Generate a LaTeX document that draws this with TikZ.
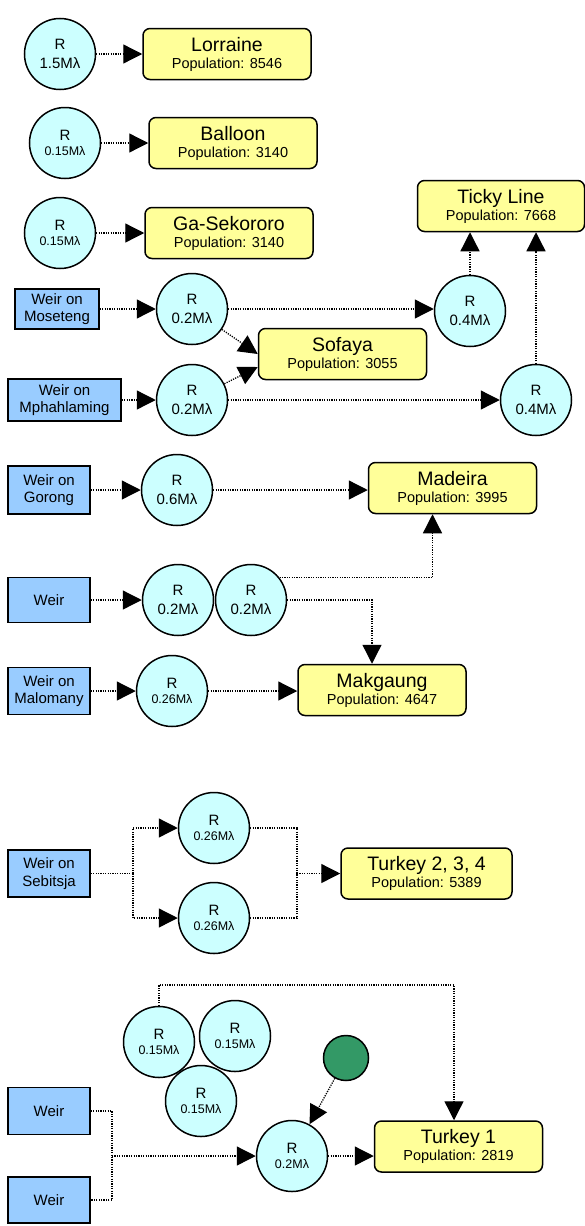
\documentclass[tikz,border=0pt]{standalone}
\usepackage{fontspec}
\setmainfont{Liberation Sans}
\usetikzlibrary{arrows.meta,calc}
\definecolor{rcyan}{HTML}{CCFFFF}
\definecolor{tyellow}{HTML}{FFFF99}
\definecolor{wblue}{HTML}{99CCFF}
\definecolor{sgreen}{HTML}{339966}
\newcommand\townname[1]{{\fontsize{19.5}{17}\selectfont #1}}
\newcommand\smallval[1]{{\fontsize{12.5}{15}\selectfont #1}}
\begin{document}
\begin{tikzpicture}[x=1pt,y=-1pt,
 res/.style={circle, draw=black, line width=1.5pt, fill=rcyan, minimum size=71pt, inner sep=0pt, align=center, font=\fontsize{15}{18.5}\selectfont},
 ress/.style={res, font=\fontsize{15}{15}\selectfont},
 town/.style={draw=black, line width=1.5pt, fill=tyellow, rounded corners=7pt, minimum width=168pt, minimum height=51pt, inner sep=0pt, align=center, font=\fontsize{14.5}{17}\selectfont},
 weir/.style={draw=black, line width=1.5pt, fill=wblue, inner sep=0pt, align=center, minimum width=82pt, minimum height=47pt, font=\fontsize{15}{17.5}\selectfont},
 conn/.style={line width=1.3pt, dash pattern=on 1.2pt off 1.2pt},
 arr/.style={conn, -{Triangle[length=19pt,width=19pt]}},
]
\useasboundingbox (0,0) rectangle (585,1226);

% Lorraine
\node[res] (r1) at (60,54) {R\\1.5Mλ};
\node[town] (lor) at (227,54) {\townname{Lorraine}\\Population: 8546};
\draw[arr] (r1) -- (lor);

% Balloon
\node[ress] (r2) at (65,143) {R\\\smallval{0.15Mλ}};
\node[town] (bal) at (233,143) {\townname{Balloon}\\Population: 3140};
\draw[arr] (r2) -- (bal);

% Ga-Sekororo
\node[ress] (r3) at (60,233) {R\\\smallval{0.15Mλ}};
\node[town] (gas) at (229,233) {\townname{Ga-Sekororo}\\Population: 3140};
\draw[arr] (r3) -- (gas);

% Ticky Line / Sofaya
\node[town, minimum width=167pt] (tic) at (501,206) {\townname{Ticky Line}\\Population: 7668};
\node[weir, minimum width=84pt, minimum height=40pt] (wmo) at (57,309) {Weir on\\Moseteng};
\node[res] (rmo) at (192,309) {R\\0.2Mλ};
\node[res] (rtl1) at (470,311) {R\\0.4Mλ};
\node[town] (sof) at (342.5,354) {\townname{Sofaya}\\Population: 3055};
\node[weir, minimum width=113pt, minimum height=42pt] (wmp) at (64.5,400) {Weir on\\Mphahlaming};
\node[res] (rmp) at (192,400) {R\\0.2Mλ};
\node[res] (rtl2) at (536,400) {R\\0.4Mλ};
\draw[arr] (wmo) -- (rmo);
\draw[arr] (rmo) -- (rmo -| rtl1.west);
\draw[arr] (rtl1) -- (rtl1 |- tic.south);
\draw[arr] (rtl2) -- (rtl2 |- tic.south);
\draw[arr] (rmo) -- (sof.west);
\draw[arr] (rmp) -- ($(sof.west)+(0,13)$);
\draw[arr] (wmp) -- (rmp);
\draw[arr] (rmp) -- (rtl2);

% Madeira / Makgaung
\node[weir, minimum height=48pt] (wgo) at (49,490) {Weir on\\Gorong};
\node[res] (rgo) at (177,490) {R\\0.6Mλ};
\node[town] (mad) at (452.5,488) {\townname{Madeira}\\Population: 3995};
\draw[arr] (wgo) -- (rgo);
\draw[arr] (rgo) -- (rgo -| mad.west);

\node[weir, minimum height=45pt] (wwe) at (49,600) {Weir};
\node[res] (rwa) at (178,600) {R\\0.2Mλ};
\node[res] (rwb) at (251,600) {R\\0.2Mλ};
\node[weir] (wma) at (49,691) {Weir on\\Malomany};
\node[ress] (rma) at (172,691) {R\\\smallval{0.26Mλ}};
\node[town] (mak) at (382,690) {\townname{Makgaung}\\Population: 4647};
\draw[arr] (wwe) -- (rwa);
\draw[arr] (rwb.38) -| ($(mad.south)+(-20,0)$);
\draw[arr] (rwb.east) -| ($(mak.north)+(-10,0)$);
\draw[arr] (wma) -- (rma);
\draw[arr] (rma) -- (rma -| mak.west);

% Turkey 2, 3, 4
\node[weir] (wse) at (49,873.5) {Weir on\\Sebitsja};
\node[ress] (rsa) at (214,828) {R\\\smallval{0.26Mλ}};
\node[ress] (rsb) at (214,918) {R\\\smallval{0.26Mλ}};
\node[town, minimum width=171pt] (tk2) at (426.5,873.5) {\townname{Turkey 2, 3, 4}\\Population: 5389};
\coordinate (ja) at (133,873.5);
\coordinate (jb) at (297,873.5);
\draw[conn] (wse) -- (ja);
\draw[arr] (ja) |- (rsa);
\draw[arr] (ja) |- (rsb);
\draw[conn] (rsa) -| (jb);
\draw[conn] (rsb) -| (jb);
\draw[arr] (jb) -- (tk2);

% Turkey 1
\node[ress] (ca) at (159,1042) {R\\\smallval{0.15Mλ}};
\node[ress] (cb) at (235,1036) {R\\\smallval{0.15Mλ}};
\node[ress] (cc) at (201,1101) {R\\\smallval{0.15Mλ}};
\node[circle, draw=black, line width=1.5pt, fill=sgreen, minimum size=45pt, inner sep=0pt] (gr) at (346,1058) {};
\node[ress] (rt) at (292,1156) {R\\\smallval{0.2Mλ}};
\node[weir] (wb1) at (49,1111) {Weir};
\node[weir, minimum height=46pt] (wb2) at (49,1200) {Weir};
\node[town] (tk1) at (458.5,1146.5) {\townname{Turkey 1}\\Population: 2819};
\coordinate (jc) at (112,1156);
\coordinate (tp) at (159,985);
\draw[conn] (wb1) -| (jc) |- (wb2);
\draw[arr] (jc) -- (rt);
\draw[arr] (rt) -- (rt -| tk1.west);
\draw[arr] (gr) -- (rt);
\draw[arr] (ca) -- (tp) -| ([xshift=-4.5pt]tk1.north);
\end{tikzpicture}
\end{document}
